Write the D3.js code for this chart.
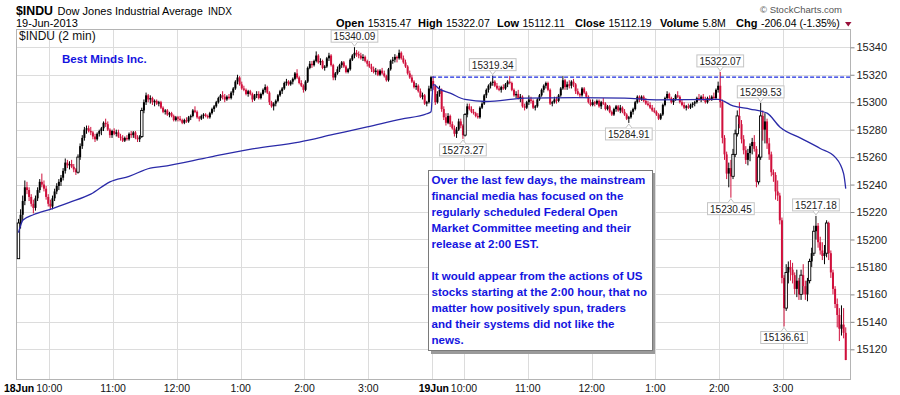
<!DOCTYPE html>
<html><head><meta charset="utf-8">
<script src="https://cdn.jsdelivr.net/npm/d3@7"></script>
<style>body{margin:0;background:#fff}svg{display:block;font-family:"Liberation Sans",Arial,sans-serif}</style>
</head><body><svg id="c" width="900" height="395"></svg>
<script>
// ---- Day 1 (18 Jun 2013), 2-minute bars 9:30-16:00 ----
const day1Open=[15186,15212,15218,15228,15238,15236,15231,15226,15223,15230,
15236,15242,15240,15237,15231,15226,15224,15230,15235,15239,
15242,15245,15250,15256,15254,15255,15253,15251,15249,15260,
15268,15274,15280,15281,15279,15278,15275,15273,15277,15279,
15281,15285,15284,15280,15276,15279,15277,15278,15275,15274,
15272,15274,15273,15277,15276,15278,15274,15273,15275,15294,
15300,15305,15302,15303,15300,15301,15299,15300,15296,15293,
15294,15291,15292,15290,15287,15289,15288,15287,15285,15287,
15286,15289,15290,15294,15293,15289,15288,15290,15291,15290,
15289,15292,15295,15297,15300,15303,15305,15304,15302,15304,
15303,15307,15310,15315,15318,15313,15310,15309,15306,15308,
15306,15302,15305,15306,15303,15306,15309,15311,15307,15300,
15297,15299,15301,15305,15308,15310,15314,15315,15313,15315,
15317,15321,15318,15314,15312,15309,15315,15325,15328,15327,
15330,15334,15329,15330,15325,15326,15332,15334,15327,15318,
15321,15324,15327,15329,15326,15322,15324,15331,15334,15336,
15335,15334,15332,15333,15330,15328,15326,15324,15322,15323,
15320,15323,15321,15319,15316,15324,15330,15331,15333,15332,
15336,15332,15329,15326,15321,15318,15315,15311,15312,15308,
15304,15305,15299,15300,15310];
const day1High=[15215,15222,15232,15243,15242,15238,15233,15229,15232,15238,
15244,15248,15243,15239,15233,15229,15232,15237,15241,15244,
15247,15252,15259,15258,15257,15258,15255,15252,15262,15270,
15276,15282,15283,15283,15282,15279,15277,15278,15280,15282,
15286,15288,15286,15281,15280,15281,15280,15280,15277,15276,
15275,15276,15278,15279,15279,15279,15276,15276,15296,15302,
15307,15306,15305,15304,15302,15302,15301,15301,15297,15295,
15295,15293,15293,15291,15290,15290,15290,15288,15288,15289,
15290,15291,15295,15297,15294,15290,15291,15292,15292,15291,
15293,15296,15298,15301,15304,15306,15308,15306,15305,15306,
15308,15311,15316,15320,15319,15315,15312,15310,15309,15309,
15307,15306,15308,15308,15307,15310,15313,15312,15308,15301,
15300,15302,15306,15309,15311,15315,15317,15316,15316,15318,
15322,15324,15319,15316,15313,15316,15326,15330,15330,15331,
15337,15335,15332,15331,15327,15333,15336,15335,15328,15322,
15326,15328,15330,15330,15327,15325,15332,15335,15340.09,15338,
15337,15336,15335,15334,15331,15330,15328,15326,15325,15324,
15324,15325,15323,15320,15325,15331,15333,15335,15334,15338.3,
15337,15334,15331,15327,15323,15320,15316,15314,15313,15310,
15307,15306,15301,15312,15319];
const day1Low=[15186,15208,15214,15225,15233,15228,15224,15219,15221,15228,
15234,15238,15235,15229,15224,15222,15222,15228,15233,15236,
15239,15243,15248,15252,15251,15252,15249,15247,15248,15258,
15266,15272,15277,15278,15276,15273,15271,15272,15275,15276,
15279,15282,15279,15274,15274,15276,15275,15274,15272,15271,
15271,15272,15272,15274,15274,15273,15271,15271,15274,15292,
15298,15300,15299,15298,15297,15298,15297,15295,15292,15291,
15290,15289,15289,15286,15286,15286,15286,15284,15284,15285,
15285,15287,15289,15292,15288,15286,15287,15288,15289,15288,
15288,15291,15293,15296,15299,15301,15302,15300,15301,15302,
15302,15305,15309,15313,15312,15309,15308,15305,15304,15305,
15300,15301,15303,15302,15302,15305,15307,15306,15298,15296,
15294,15297,15300,15304,15306,15309,15312,15312,15312,15313,
15316,15317,15313,15311,15307,15308,15314,15324,15325,15326,
15329,15328,15327,15324,15323,15325,15330,15326,15316,15316,
15320,15322,15325,15325,15321,15321,15323,15330,15332,15333,
15332,15331,15330,15329,15326,15325,15322,15321,15320,15319,
15319,15320,15318,15315,15315,15323,15328,15329,15329,15331,
15331,15328,15325,15320,15317,15314,15310,15309,15307,15303,
15302,15298,15297,15299,15308];
const day1Close=[15212,15218,15228,15238,15236,15231,15226,15223,15230,15236,
15242,15240,15237,15231,15226,15224,15230,15235,15239,15242,
15245,15250,15256,15254,15255,15253,15251,15249,15260,15268,
15274,15280,15281,15279,15278,15275,15273,15277,15279,15281,
15285,15284,15280,15276,15279,15277,15278,15275,15274,15272,
15274,15273,15277,15276,15278,15274,15273,15275,15294,15300,
15305,15302,15303,15300,15301,15299,15300,15296,15293,15294,
15291,15292,15290,15287,15289,15288,15287,15285,15287,15286,
15289,15290,15294,15293,15289,15288,15290,15291,15290,15289,
15292,15295,15297,15300,15303,15305,15304,15302,15304,15303,
15307,15310,15315,15318,15313,15310,15309,15306,15308,15306,
15302,15305,15306,15303,15306,15309,15311,15307,15300,15297,
15299,15301,15305,15308,15310,15314,15315,15313,15315,15317,
15321,15318,15314,15312,15309,15315,15325,15328,15327,15330,
15334,15329,15330,15325,15326,15332,15334,15327,15318,15321,
15324,15327,15329,15326,15322,15324,15331,15334,15336,15335,
15334,15332,15333,15330,15328,15326,15324,15322,15323,15320,
15323,15321,15319,15316,15324,15330,15331,15333,15332,15336,
15332,15329,15326,15321,15318,15315,15311,15312,15308,15304,
15305,15299,15300,15310,15318.23];

// ---- Day 2 (19 Jun 2013), 2-minute bars 9:30-16:00 ----
const day2Open=[15315.47,15312,15300,15306,15309,15295,15289,15285,15290,15284,
15281,15277,15280,15286,15283,15276,15291,15297,15295,15293,
15292,15290,15289,15296,15299,15305,15309,15312,15314,15315,
15312,15310,15309,15311,15310,15313,15315,15314,15309,15305,
15306,15303,15304,15297,15296,15300,15302,15301,15296,15297,
15302,15305,15309,15312,15314,15309,15299,15300,15302,15301,
15305,15310,15316,15311,15313,15312,15315,15313,15308,15306,
15305,15310,15307,15304,15300,15298,15300,15299,15301,15297,
15300,15299,15295,15297,15293,15291,15295,15297,15294,15296,
15293,15291,15288,15289,15293,15295,15300,15304,15302,15304,
15301,15299,15298,15296,15294,15293,15291,15288,15291,15298,
15303,15306,15303,15300,15302,15305,15304,15300,15298,15296,
15297,15296,15298,15299,15300,15303,15302,15304,15302,15300,
15303,15302,15304,15303,15309,15312,15300,15274,15262,15248,
15252,15246,15262,15277,15290,15284,15273,15265,15258,15263,
15268,15271,15266,15242,15260,15290,15280,15286,15270,15262,
15249,15247,15235,15232,15214,15172,15150,15176,15180,15178,
15174,15164,15170,15160,15174,15166,15160,15170,15184,15190,
15206,15210,15198,15192,15188,15190,15212,15190,15176,15164,
15153,15145,15135,15138,15132];
const day2High=[15319,15313,15308,15312,15310,15297,15292,15292,15291,15286,
15283,15282,15288,15288,15284,15292,15299,15299,15297,15295,
15293,15292,15297,15300,15306,15310,15313,15315,15319.34,15316,
15314,15312,15312,15313,15314,15316,15319,15315,15310,15308,
15309,15306,15305,15299,15301,15305,15304,15302,15298,15303,
15306,15310,15313,15315,15315,15310,15301,15304,15304,15306,
15311,15319,15317,15315,15316,15316,15317,15314,15310,15307,
15311,15311,15308,15305,15302,15302,15301,15302,15302,15301,
15303,15300,15298,15298,15294,15296,15298,15298,15298,15297,
15295,15292,15290,15294,15296,15301,15305,15305,15305,15305,
15303,15301,15300,15298,15296,15294,15292,15292,15299,15304,
15308,15307,15304,15303,15306,15308,15305,15302,15300,15298,
15299,15299,15300,15301,15304,15306,15305,15306,15304,15304,
15305,15305,15307,15310,15315,15322.07,15302,15276,15264,15256,
15258,15266,15280,15294,15300,15287,15276,15268,15266,15270,
15274,15276,15268,15262,15299.53,15294,15292,15288,15274,15264,
15251,15249,15243,15234,15216,15174,15182,15184,15185,15183,
15176,15178,15172,15178,15182,15170,15172,15186,15194,15210,
15217.18,15212,15202,15198,15196,15214,15213,15192,15178,15166,
15157,15150,15152,15150,15136];
const day2Low=[15309,15298,15299,15304,15293,15287,15283,15284,15282,15280,
15275,15274,15279,15281,15273.27,15275,15289,15294,15292,15291,
15289,15288,15288,15295,15298,15303,15307,15310,15312,15311,
15309,15308,15307,15309,15309,15311,15313,15308,15304,15303,
15302,15300,15296,15294,15295,15298,15299,15295,15294,15296,
15301,15304,15307,15310,15308,15298,15297,15299,15299,15300,
15304,15309,15309,15309,15310,15310,15311,15306,15305,15303,
15304,15306,15303,15299,15297,15297,15297,15298,15296,15295,
15298,15294,15294,15292,15290,15290,15293,15293,15292,15292,
15290,15287,15284.91,15288,15291,15294,15299,15300,15301,15300,
15298,15297,15295,15293,15292,15290,15287,15287,15290,15297,
15302,15302,15299,15298,15301,15303,15299,15297,15295,15294,
15295,15295,15296,15297,15299,15301,15300,15301,15299,15299,
15301,15301,15302,15302,15307,15296,15270,15258,15244,15238,
15230.45,15244,15260,15275,15281,15270,15262,15255,15254,15257,
15262,15264,15238,15240,15258,15272,15270,15266,15258,15246,
15242,15229,15228,15211,15168,15136.61,15148,15168,15170,15168,
15160,15158,15156,15156,15160,15156,15155,15168,15180,15188,
15200,15194,15189,15185,15182,15187,15185,15172,15160,15150,
15136,15126,15130,15128,15112.11];
const day2Close=[15312,15300,15306,15309,15295,15289,15285,15290,15284,15281,
15277,15280,15286,15283,15276,15291,15297,15295,15293,15292,
15290,15289,15296,15299,15305,15309,15312,15314,15315,15312,
15310,15309,15311,15310,15313,15315,15314,15309,15305,15306,
15303,15304,15297,15296,15300,15302,15301,15296,15297,15302,
15305,15309,15312,15314,15309,15299,15300,15302,15301,15305,
15310,15316,15311,15313,15312,15315,15313,15308,15306,15305,
15310,15307,15304,15300,15298,15300,15299,15301,15297,15300,
15299,15295,15297,15293,15291,15295,15297,15294,15296,15293,
15291,15288,15289,15293,15295,15300,15304,15302,15304,15301,
15299,15298,15296,15294,15293,15291,15288,15291,15298,15303,
15306,15303,15300,15302,15305,15304,15300,15298,15296,15297,
15296,15298,15299,15300,15303,15302,15304,15302,15300,15303,
15302,15304,15303,15309,15312,15300,15274,15262,15248,15252,
15246,15262,15277,15290,15284,15273,15265,15258,15263,15268,
15271,15266,15242,15260,15290,15280,15286,15270,15262,15249,
15247,15235,15232,15214,15172,15150,15176,15180,15178,15174,
15164,15170,15160,15174,15166,15160,15170,15184,15190,15206,
15210,15198,15192,15188,15190,15212,15190,15176,15164,15153,
15145,15135,15138,15132,15112.19];

// ---- Moving-average line (bar index, value) ----
const maBar=[0,1,2,7,15,24,34,43,52,62,67,90,110,132,148,164,180,192,194,195,198,203,210,220,238,262,285,300,329,336,344,352,358,368,377,384,388,389];
const maValue=[15205,15210,15214,15218,15222,15227,15233,15242,15246,15252,15253,15260,15266,15271,15276.5,15282,15287.7,15291.6,15293,15313,15309.5,15306.6,15302,15300.5,15303,15303.4,15303,15301.7,15302,15297.3,15295,15292,15282,15273.7,15266.3,15260,15248,15237];

const prevClose=15318.23;
const yTicks=[15120,15140,15160,15180,15200,15220,15240,15260,15280,15300,15320,15340];
const xTickBars=[15,45,75,105,135,165,210,240,270,300,330,360];
const xTickLabels=["10:00","11:00","12:00","1:00","2:00","3:00","10:00","11:00","12:00","1:00","2:00","3:00"];
const dayLabelBars=[15,210];
const dayLabels=["18Jun","19Jun"];
const dayBreakBar=195;

const calloutBars=[158,223,209,287,330,349,335,375,360];
const calloutValues=[15340.09,15319.34,15273.27,15284.91,15322.07,15299.53,15230.45,15217.18,15136.61];
const calloutSides=["up","up","down","down","up","up","down","up","down"];

const headerLabels=["Open","High","Low","Close","Volume","Chg"];
const headerValues=["15315.47","15322.07","15112.11","15112.19","5.8M","-206.04 (-1.35%)"];

const noteLines=["Over the last few days, the mainstream","financial media has focused on the","regularly scheduled Federal Open","Market Committee meeting and their","release at 2:00 EST.","","It would appear from the actions of US","stocks starting at the 2:00 hour, that no","matter how positively spun, traders","and their systems did not like the","news."];

// ---- layout ----
const svg=d3.select("#c");
const L=16,R=850,T=29,B=379;
const x=d3.scaleLinear().domain([0,390]).range([17.4,846.8]);
const y=d3.scaleLinear().domain([15120,15340]).range([349.3,47.3]);
const RED="#d0103c", BLUE_TXT="#1414e0";

svg.append("rect").attr("width",900).attr("height",395).attr("fill","#fff");

// gridlines
const g=svg.append("g");
g.selectAll("line.h").data(yTicks).join("line")
 .attr("x1",L).attr("x2",R).attr("y1",d=>Math.round(y(d))+0.5).attr("y2",d=>Math.round(y(d))+0.5)
 .attr("stroke","#dcdcdc").attr("stroke-width",1);
g.selectAll("line.v").data(xTickBars.concat([dayBreakBar])).join("line")
 .attr("x1",d=>Math.round(x(d))+0.5).attr("x2",d=>Math.round(x(d))+0.5).attr("y1",T).attr("y2",B)
 .attr("stroke","#dcdcdc").attr("stroke-width",1);

// frame
svg.append("rect").attr("x",L+0.5).attr("y",T+0.5).attr("width",R-L).attr("height",B-T)
 .attr("fill","none").attr("stroke","#b4b4b4");

// y axis (right)
const ya=svg.append("g").attr("transform",`translate(${R+0.5},0)`)
 .call(d3.axisRight(y).tickValues(yTicks).tickSize(4).tickPadding(2).tickFormat(d3.format("d")));
ya.select(".domain").remove();
ya.selectAll("line").attr("stroke","#888");
ya.selectAll("text").attr("font-size","11px").attr("fill","#222").attr("font-family",'"Liberation Sans",Arial,sans-serif');

// x axis labels
svg.selectAll("text.xl").data(xTickBars).join("text")
 .attr("x",d=>x(d)).attr("y",392).attr("text-anchor","middle")
 .attr("font-size","10.5px").attr("fill","#111").text((d,i)=>xTickLabels[i]);
svg.selectAll("text.dl").data(dayLabelBars).join("text")
 .attr("x",d=>x(d)-15).attr("y",392).attr("text-anchor","end")
 .attr("font-size","10.5px").attr("font-weight","bold").attr("fill","#000").text((d,i)=>dayLabels[i]);

// bars
const bars=[];
day1Open.forEach((o,i)=>bars.push({i,o,h:day1High[i],l:day1Low[i],c:day1Close[i]}));
day2Open.forEach((o,i)=>bars.push({i:i+195,o,h:day2High[i],l:day2Low[i],c:day2Close[i]}));
bars.forEach((b,k)=>{b.pc=k===0?b.o:bars[k-1].c;b.col=b.c>=b.pc?"#000":RED;
 b.hollow=b.c>b.o && (y(b.o)-y(b.c))>=14;});

const cg=svg.append("g");
cg.selectAll("line").data(bars).join("line")
 .attr("x1",d=>x(d.i+0.5)).attr("x2",d=>x(d.i+0.5))
 .attr("y1",d=>y(Math.max(d.h,d.o,d.c))).attr("y2",d=>y(Math.min(d.l,d.o,d.c)))
 .attr("stroke",d=>d.col).attr("stroke-width",1);
cg.selectAll("rect").data(bars).join("rect")
 .attr("x",d=>x(d.i+0.5)-(d.hollow?1.2:1)).attr("width",d=>d.hollow?2.4:2)
 .attr("y",d=>y(Math.max(d.o,d.c))).attr("height",d=>Math.max(1,Math.abs(y(d.o)-y(d.c))))
 .attr("fill",d=>d.hollow?"#fff":d.col).attr("stroke",d=>d.hollow?d.col:"none").attr("stroke-width",0.9);

// previous close dashed line
svg.append("line").attr("x1",x(dayBreakBar)).attr("x2",R).attr("y1",y(prevClose)).attr("y2",y(prevClose))
 .attr("stroke","#1a2be0").attr("stroke-width",1.2).attr("stroke-dasharray","4,2");

// moving average
const maPts=maBar.map((b,i)=>[x(b+0.5),y(maValue[i])]);
svg.append("path").attr("d",d3.line().curve(d3.curveMonotoneX)(maPts))
 .attr("fill","none").attr("stroke","#2a2aa8").attr("stroke-width",1.3);

// callouts
const fmt=d3.format(".2f");
calloutBars.forEach((b,k)=>{
  const cx=x(b+0.5), vy=y(calloutValues[k]), up=calloutSides[k]==="up";
  const gg=svg.append("g");
  const t=gg.append("text").attr("font-size","10px").attr("fill","#222").attr("text-anchor","middle").text(fmt(calloutValues[k]));
  const w=t.node().getComputedTextLength()+5, h=12;
  const by=up? vy-5-h : vy+5;
  gg.insert("rect","text").attr("x",cx-w/2).attr("y",by).attr("width",w).attr("height",h)
    .attr("fill","#fff").attr("stroke","#c4c4c4").attr("stroke-width",1);
  const py=up? by+h : by;
  gg.append("path").attr("d",up?`M${cx-3},${py} L${cx},${py+4} L${cx+3},${py}`:`M${cx-3},${py} L${cx},${py-4} L${cx+3},${py}`)
    .attr("fill","#fff").attr("stroke","#c4c4c4").attr("stroke-width",1);
  t.attr("x",cx).attr("y",by+10);
});

// note box
svg.append("rect").attr("x",431).attr("y",173).attr("width",224).attr("height",181).attr("fill","#9a9a9a");
svg.append("rect").attr("x",428.5).attr("y",170.5).attr("width",224).attr("height",180).attr("fill","#fff").attr("stroke","#7a7a7a");
const nt=svg.append("g").attr("font-weight","bold").attr("fill",BLUE_TXT);
const nts=nt.selectAll("text").data(noteLines).join("text").attr("x",431.5).attr("y",(d,i)=>184+i*16).attr("font-size","11px").text(d=>d);
let maxW=0; nts.each(function(){maxW=Math.max(maxW,this.getComputedTextLength());});
const fs=11*216/maxW;
nts.attr("font-size",fs+"px");

// plot labels
svg.append("text").attr("x",19).attr("y",40).attr("font-size","12px").attr("fill","#111").text("$INDU (2 min)");
svg.append("text").attr("x",62).attr("y",63).attr("font-size",fs+"px").attr("font-weight","bold").attr("fill",BLUE_TXT).text("Best Minds Inc.");

// header
const sym=svg.append("text").attr("x",16).attr("y",14.5).attr("font-size","13.5px").attr("font-weight","bold").attr("fill","#000").text("$INDU");
const sw=sym.node().getComputedTextLength();
sym.attr("font-size",(13.5*37/sw)+"px");
svg.append("text").attr("x",57.5).attr("y",14.5).attr("font-size","11px").attr("fill","#000").text("Dow Jones Industrial Average");
svg.append("text").attr("x",208).attr("y",14.5).attr("font-size","10px").attr("fill","#000").text("INDX");
svg.append("text").attr("x",16).attr("y",27).attr("font-size","11px").attr("fill","#000").text("19-Jun-2013");
svg.append("text").attr("x",760).attr("y",13).attr("font-size","9.5px").attr("fill","#555").text("\u00a9 StockCharts.com");
const labX=[336,418,497,575,660,736];
headerLabels.forEach((s,i)=>{
  const lt=svg.append("text").attr("x",labX[i]).attr("y",27).attr("font-size","11px").attr("font-weight","bold").attr("fill","#000").text(s);
  const lw=lt.node().getComputedTextLength();
  svg.append("text").attr("x",labX[i]+lw+3.5).attr("y",27).attr("font-size","10.5px").attr("fill","#000").text(headerValues[i]);
});
svg.append("path").attr("d","M845,22 L851.5,22 L848.25,26.5 Z").attr("fill","#99103a");
</script></body></html>
